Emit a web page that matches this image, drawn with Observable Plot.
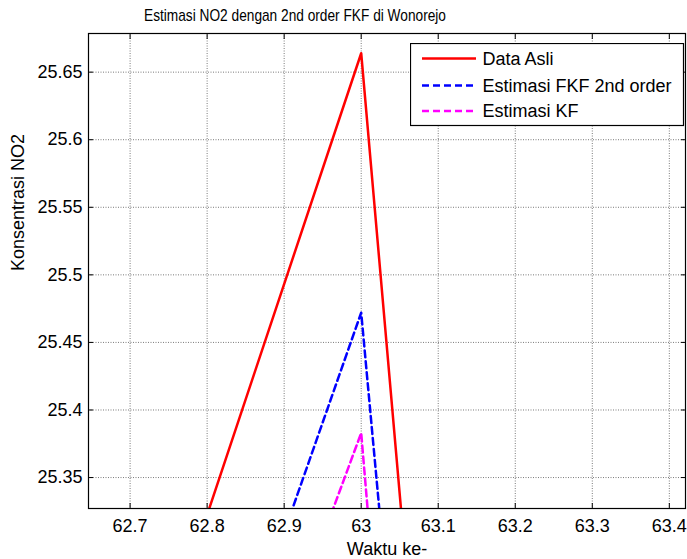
<!DOCTYPE html>
<html><head><meta charset="utf-8">
<script src="https://cdn.jsdelivr.net/npm/d3@7"></script>
<script src="https://cdn.jsdelivr.net/npm/@observablehq/plot@0.6"></script>
<style>
html,body{margin:0;padding:0;background:#fff;}
#wrap{position:relative;width:687px;height:559px;font-family:"Liberation Sans",Arial,sans-serif;}
#legend{position:absolute;left:410px;top:43px;}
</style></head><body><div id="wrap"></div>
<script>
const waktu = [62, 63, 64];
const dataAsli = [23.956, 25.664, 19.14];
const estimasiFKF = [23.847, 25.472, 19.29];
const estimasiKF = [23.842, 25.383, 18.62];
const xTicks = [62.7, 62.8, 62.9, 63, 63.1, 63.2, 63.3, 63.4];
const yTicks = [25.35, 25.4, 25.45, 25.5, 25.55, 25.6, 25.65];
const xDomain = [62.646, 63.421];
const yDomain = [25.3271, 25.6786];
const seriesNames = ["Data Asli", "Estimasi FKF 2nd order", "Estimasi KF"];
const seriesColors = ["#ff0000", "#0000ff", "#ff00ff"];
const seriesDash = [null, "7,4", "7,4"];
const titleText = "Estimasi NO2 dengan 2nd order FKF di Wonorejo";
const xLabel = "Waktu ke-";
const yLabel = "Konsentrasi NO2";

const seriesValues = [dataAsli, estimasiFKF, estimasiKF];
const rows = seriesValues.map((vals, s) => waktu.map((t, i) => ({t, v: vals[i], s})));

const font = "Liberation Sans, Arial, sans-serif";
const chart = Plot.plot({
  width: 687, height: 559,
  marginLeft: 88, marginRight: 2, marginTop: 33, marginBottom: 51,
  style: {fontFamily: font, background: "#fff", color: "#000"},
  x: {domain: xDomain, ticks: xTicks, label: null},
  y: {domain: yDomain, ticks: yTicks, label: null},
  marks: [
    Plot.gridX(xTicks, {stroke: "#7a7a7a", strokeOpacity: 1, strokeDasharray: "1,1.5"}),
    Plot.gridY(yTicks, {stroke: "#7a7a7a", strokeOpacity: 1, strokeDasharray: "1,1.5"}),
    ...rows.map((r, s) => Plot.line(r, {x: "t", y: "v", stroke: seriesColors[s], strokeWidth: 2.5, strokeDasharray: seriesDash[s], clip: true})),
    Plot.axisX(xTicks, {anchor: "bottom", tickSize: 0, tickPadding: 11, fontSize: 18, tickFormat: d => String(d), label: null}),
    Plot.axisY(yTicks, {anchor: "left", tickSize: 0, tickPadding: 6, fontSize: 18, tickFormat: d => String(d), label: null}),
    Plot.axisX(xTicks, {anchor: "bottom", tickSize: 5, dy: -5, tickFormat: () => "", label: null}),
    Plot.axisX(xTicks, {anchor: "top", tickSize: 5, dy: 5, tickFormat: () => "", label: null}),
    Plot.axisY(yTicks, {anchor: "left", tickSize: 5, dx: 5, tickFormat: () => "", label: null}),
    Plot.axisY(yTicks, {anchor: "right", tickSize: 5, dx: -5, tickFormat: () => "", label: null}),
    Plot.frame({stroke: "#000", strokeWidth: 1.2}),
    Plot.text([titleText], {frameAnchor: "top", dx: -92, dy: -18, fontSize: 17, lineAnchor: "middle"}),
    Plot.text([xLabel], {frameAnchor: "bottom", dy: 41, fontSize: 18, lineAnchor: "middle"}),
    Plot.text([yLabel], {frameAnchor: "left", dx: -70.5, rotate: -90, fontSize: 18, lineAnchor: "middle"})
  ]
});
document.getElementById("wrap").appendChild(chart);
// condense the title to the reference's width
d3.select(chart).selectAll("text").filter(function() { return this.textContent === titleText; })
  .attr("textLength", 302).attr("lengthAdjust", "spacingAndGlyphs");

// legend
const leg = d3.select("#wrap").append("svg").attr("id", "legend")
  .attr("width", 275).attr("height", 84);
leg.append("rect").attr("x", 0.5).attr("y", 0.5).attr("width", 273).attr("height", 82)
  .attr("fill", "#fff").attr("stroke", "#000").attr("stroke-width", 1.2);
const rowY = [15.5, 42.5, 68];
seriesNames.forEach((name, i) => {
  leg.append("line").attr("x1", 12).attr("x2", 66).attr("y1", rowY[i]).attr("y2", rowY[i])
    .attr("stroke", seriesColors[i]).attr("stroke-width", 2.5)
    .attr("stroke-dasharray", seriesDash[i]);
  leg.append("text").attr("x", 72.5).attr("y", rowY[i]).attr("dy", "0.35em")
    .attr("font-family", font).attr("font-size", 18).text(name);
});
</script>
</body></html>
